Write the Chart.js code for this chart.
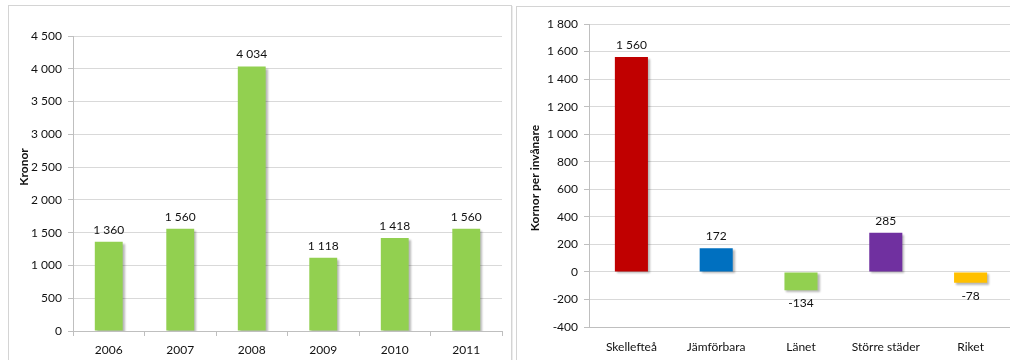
<!DOCTYPE html>
<html>
<head>
<meta charset="utf-8">
<script src="https://cdn.jsdelivr.net/npm/chart.js@4"></script>
<style>
  html, body { margin: 0; padding: 0; background: #fff; overflow: hidden; }
  body { position: relative; width: 1010px; height: 360px; }
  .panel { position: absolute; border: 1px solid #d4d4d4; box-shadow: 1px 1px 0 #ececec; background: #fff; }
  canvas { position: absolute; }
</style>
</head>
<body>
<div class="panel" style="left:8px; top:5px; width:502px; height:400px;"></div>
<div class="panel" style="left:516px; top:6px; width:600px; height:400px;"></div>
<canvas id="yearChart" width="503" height="355" style="left:8px; top:5px;"></canvas>
<canvas id="areaChart" width="500" height="354" style="left:516px; top:6px;"></canvas>
<script>
// Kronor per year
const years = ['2006', '2007', '2008', '2009', '2010', '2011'];
const kronor = [1360, 1560, 4034, 1118, 1418, 1560];
const yearTicks = [0, 500, 1000, 1500, 2000, 2500, 3000, 3500, 4000, 4500];

// Kronor per invånare by area
const areas = ['Skellefteå', 'Jämförbara', 'Länet', 'Större städer', 'Riket'];
const perInvanare = [1560, 172, -134, 285, -78];
const areaColors = ['#C00000', '#0070C0', '#92D050', '#7030A0', '#FFC000'];
const areaTicks = [-400, -200, 0, 200, 400, 600, 800, 1000, 1200, 1400, 1600, 1800];

const FONT = 'Lato, "Liberation Sans", sans-serif';
const textColor = '#111';
const gridColor = '#d9d9d9';
const axisColor = '#bfbfbf';

// 1 560 / -134
function fmt(v) {
    const s = String(Math.abs(v)).replace(/\B(?=(\d{3})+(?!\d))/g, ' ');
    return (v < 0 ? '-' : '') + s;
}

// soft drop shadow under the bars
const barShadow = {
    id: 'barShadow',
    beforeDatasetsDraw(chart) {
        const ctx = chart.ctx;
        ctx.save();
        ctx.shadowColor = 'rgba(0,0,0,0.28)';
        ctx.shadowOffsetX = 2;
        ctx.shadowOffsetY = 2;
        ctx.shadowBlur = 2;
    },
    afterDatasetsDraw(chart) {
        chart.ctx.restore();
    }
};

// value above (or below for negatives) each bar
const valueLabels = {
    id: 'valueLabels',
    afterDatasetsDraw(chart) {
        const ctx = chart.ctx;
        ctx.save();
        ctx.font = '12px ' + FONT;
        ctx.fillStyle = textColor;
        ctx.textAlign = 'center';
        ctx.textBaseline = 'middle';
        chart.data.datasets.forEach((ds, i) => {
            chart.getDatasetMeta(i).data.forEach((bar, j) => {
                const v = ds.data[j];
                const y = v >= 0 ? bar.y - 12 : bar.y + 13;
                ctx.fillText(fmt(v), bar.x, y);
            });
        });
        ctx.restore();
    }
};

// rotated axis title
const sideTitle = {
    id: 'sideTitle',
    afterDraw(chart, args, opts) {
        if (!opts.text) return;
        const ctx = chart.ctx;
        ctx.save();
        ctx.translate(opts.x, opts.y);
        ctx.rotate(-Math.PI / 2);
        ctx.font = 'bold 12px ' + FONT;
        ctx.fillStyle = textColor;
        ctx.textAlign = 'center';
        ctx.textBaseline = 'middle';
        ctx.fillText(opts.text, 0, 0);
        ctx.restore();
    }
};

function buildOptions(cfg) {
    return {
        responsive: false,
        animation: false,
        layout: { padding: cfg.padding },
        plugins: {
            legend: { display: false },
            tooltip: { enabled: false },
            sideTitle: cfg.title
        },
        scales: {
            x: {
                grid: cfg.xGrid,
                border: { color: axisColor },
                ticks: { color: textColor, font: { family: FONT, size: 12 }, padding: cfg.xPad, maxRotation: 0 },
                afterFit: s => { s.height = cfg.xHeight; }
            },
            y: {
                min: cfg.ticks[0],
                max: cfg.ticks[cfg.ticks.length - 1],
                afterBuildTicks: s => { s.ticks = cfg.ticks.map(v => ({ value: v })); },
                grid: { color: gridColor, tickLength: 5, tickColor: axisColor },
                border: { color: axisColor },
                ticks: { color: textColor, font: { family: FONT, size: 12 }, padding: 6, callback: v => fmt(v) },
                afterFit: s => { s.width = cfg.yWidth; }
            }
        }
    };
}

new Chart(document.getElementById('yearChart'), {
    type: 'bar',
    data: {
        labels: years,
        datasets: [{
            data: kronor,
            backgroundColor: '#92D050',
            barPercentage: 0.39,
            categoryPercentage: 1
        }]
    },
    options: buildOptions({
        padding: { top: 31, right: 9, left: 0, bottom: 0 },
        xGrid: { offset: true, drawOnChartArea: false, tickLength: 5, color: axisColor },
        xPad: 7,
        xHeight: 29,
        yWidth: 65,
        ticks: yearTicks,
        title: { text: 'Kronor', x: 16, y: 162 }
    }),
    plugins: [barShadow, valueLabels, sideTitle]
});

new Chart(document.getElementById('areaChart'), {
    type: 'bar',
    data: {
        labels: areas,
        datasets: [{
            data: perInvanare,
            backgroundColor: areaColors,
            barPercentage: 0.39,
            categoryPercentage: 1
        }]
    },
    options: buildOptions({
        padding: { top: 18, right: 3, left: 0, bottom: 0 },
        xGrid: { display: false },
        xPad: 5,
        xHeight: 33,
        yWidth: 73,
        ticks: areaTicks,
        title: { text: 'Kornor per invånare', x: 19, y: 172 }
    }),
    plugins: [barShadow, valueLabels, sideTitle]
});
</script>
</body>
</html>
